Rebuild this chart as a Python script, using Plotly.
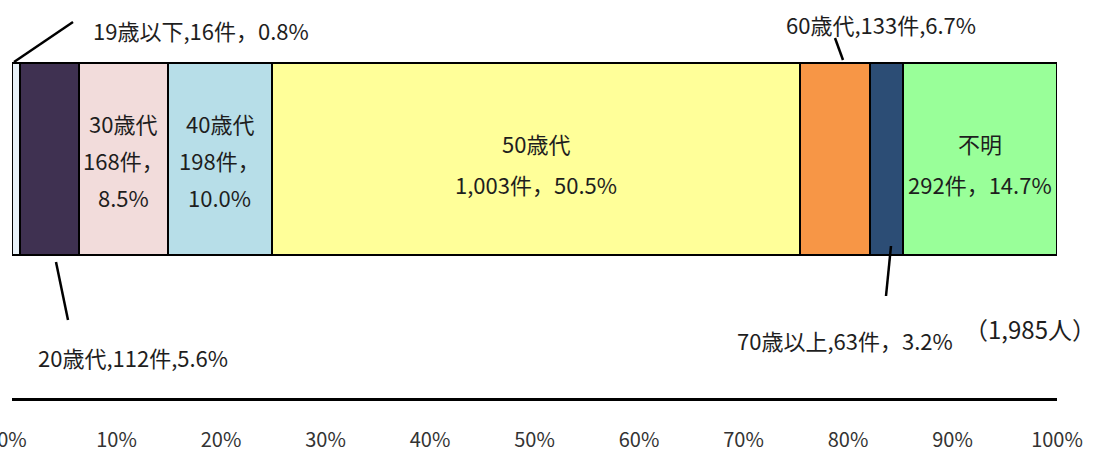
import plotly.graph_objects as go

# ---- data ----
categories = ["19歳以下", "20歳代", "30歳代", "40歳代", "50歳代", "60歳代", "70歳以上", "不明"]
counts = [16, 112, 168, 198, 1003, 133, 63, 292]
percents = [0.8, 5.6, 8.5, 10.0, 50.5, 6.7, 3.2, 14.7]
total_label = "（1,985人）"
tick_values = [0, 10, 20, 30, 40, 50, 60, 70, 80, 90, 100]
tick_labels = ["0%", "10%", "20%", "30%", "40%", "50%", "60%", "70%", "80%", "90%", "100%"]

colors = ["#e8f1f8", "#3f3151", "#f2dcdb", "#b7dee8", "#ffff99", "#f79646", "#2c4d75", "#99ff99"]

W, H = 1096, 453
ML, MR, MT, MB = 12, 39, 0, 55
PW = W - ML - MR
PH = H - MT - MB


def xd(p):  # pixel x -> data (%)
    return (p - ML) / PW * 100


def yp(p):  # pixel y -> paper
    return (H - MB - p) / PH


# cumulative starts / centers
starts = []
acc = 0.0
for v in percents:
    starts.append(acc)
    acc += v
centers = [s + v / 2 for s, v in zip(starts, percents)]

fig = go.Figure()
bar_top, bar_bot = 63, 255
for cat, v, c in zip(categories, percents, colors):
    fig.add_trace(go.Bar(
        x=[v], y=[(yp(bar_top) + yp(bar_bot)) / 2], orientation="h",
        width=[yp(bar_top) - yp(bar_bot)],
        marker=dict(color=c, line=dict(color="#000000", width=2)),
        name=cat, hoverinfo="skip", showlegend=False,
    ))

FONT = "Noto Sans CJK JP"
TXT = "#1e1e1e"
FS = 22
ann = []


def add_text(x, y, text, xanchor="center", size=FS, xref="x"):
    ann.append(dict(x=x, y=y, xref=xref, yref="paper", text=text, showarrow=False,
                    xanchor=xanchor, yanchor="middle",
                    font=dict(family=FONT, size=size, color=TXT)))


def fmt_int(n):
    return f"{n:,}"


# inside labels
i30 = categories.index("30歳代")
i40 = categories.index("40歳代")
i50 = categories.index("50歳代")
iun = categories.index("不明")
for i in (i30, i40):
    add_text(centers[i], yp(123), categories[i])
    add_text(centers[i], yp(160), f"{fmt_int(counts[i])}件，")
    add_text(centers[i], yp(197), f"{percents[i]:.1f}%")
add_text(centers[i50], yp(143), categories[i50])
add_text(centers[i50], yp(184), f"{fmt_int(counts[i50])}件，{percents[i50]:.1f}%")
add_text(centers[iun], yp(143), categories[iun])
add_text(centers[iun], yp(184), f"{fmt_int(counts[iun])}件，{percents[iun]:.1f}%")

# outside labels
i19 = categories.index("19歳以下")
i20 = categories.index("20歳代")
i60 = categories.index("60歳代")
i70 = categories.index("70歳以上")
add_text(xd(91), yp(30), f"{categories[i19]},{counts[i19]}件，{percents[i19]:.1f}%", xanchor="left")
add_text(xd(36), yp(357), f"{categories[i20]},{counts[i20]}件,{percents[i20]:.1f}%", xanchor="left")
add_text(xd(881), yp(24), f"{categories[i60]},{counts[i60]}件,{percents[i60]:.1f}%")
add_text(xd(845), yp(340), f"{categories[i70]},{counts[i70]}件，{percents[i70]:.1f}%")
add_text(xd(1030), yp(328), total_label, size=24)

# leader lines
shapes = []


def line(x0, y0, x1, y1):
    shapes.append(dict(type="line", xref="x", yref="paper", x0=x0, y0=y0, x1=x1, y1=y1,
                       line=dict(color="#000000", width=2.5)))


line(xd(14), yp(62), xd(73), yp(22))
line(xd(56), yp(262), xd(68), yp(320))
line(xd(835), yp(38), xd(843), yp(60))
line(xd(891), yp(246), xd(886), yp(296))

fig.update_layout(
    barmode="stack",
    width=W, height=H,
    margin=dict(l=ML, r=MR, t=MT, b=MB, pad=0),
    plot_bgcolor="#ffffff", paper_bgcolor="#ffffff",
    annotations=ann, shapes=shapes,
    xaxis=dict(range=[0, 100], tickvals=tick_values, ticktext=tick_labels,
               showgrid=False, zeroline=False, showline=True, linecolor="#000000", linewidth=3,
               ticks="", ticklabelstandoff=22, automargin=False, ticklabeloverflow="allow",
               tickfont=dict(family=FONT, size=20, color="#333333"), fixedrange=True),
    yaxis=dict(range=[0, 1], visible=False, fixedrange=True),
    bargap=0,
)

fig.write_html("out.html", config={"displayModeBar": False},
               post_script="document.body.style.margin='0';document.body.style.overflow='hidden';")
